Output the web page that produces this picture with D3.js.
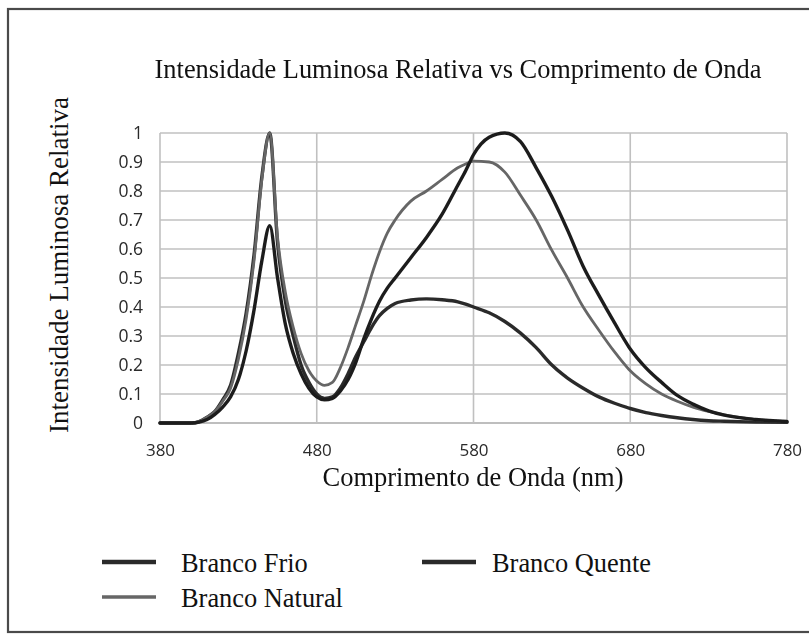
<!DOCTYPE html>
<html>
<head>
<meta charset="utf-8">
<script src="https://cdn.jsdelivr.net/npm/d3@7"></script>
<style>
  html, body { margin: 0; padding: 0; background: #ffffff; }
  svg { display: block; }
</style>
</head>
<body>
<svg id="chart" width="809" height="634"></svg>
<script>
// Wavelength samples (nm)
const wavelengths = [380, 400, 405, 410, 415, 420, 425, 430, 435, 440, 445, 450, 455, 460, 465, 470, 475, 480, 485, 490, 495, 500, 505, 510, 515, 520, 525, 530, 540, 550, 560, 570, 575, 580, 590, 600, 610, 620, 630, 640, 650, 660, 670, 680, 690, 700, 710, 720, 730, 740, 760, 780];

// Relative intensity per LED type
const brancoFrio = [0, 0, 0.005, 0.02, 0.04, 0.08, 0.13, 0.24, 0.38, 0.58, 0.85, 1.0, 0.62, 0.42, 0.3, 0.2, 0.14, 0.1, 0.085, 0.09, 0.12, 0.17, 0.23, 0.28, 0.33, 0.37, 0.395, 0.412, 0.424, 0.428, 0.425, 0.418, 0.41, 0.4, 0.38, 0.35, 0.31, 0.26, 0.2, 0.155, 0.12, 0.09, 0.068, 0.05, 0.036, 0.026, 0.018, 0.012, 0.008, 0.006, 0.003, 0.002];
const brancoQuente = [0, 0, 0.003, 0.012, 0.03, 0.055, 0.09, 0.15, 0.25, 0.39, 0.56, 0.68, 0.5, 0.34, 0.24, 0.17, 0.12, 0.09, 0.08, 0.085, 0.11, 0.15, 0.21, 0.29, 0.36, 0.42, 0.465, 0.5, 0.57, 0.64, 0.72, 0.82, 0.87, 0.925, 0.985, 1.0, 0.97, 0.88, 0.78, 0.665, 0.54, 0.44, 0.345, 0.255, 0.19, 0.14, 0.095, 0.065, 0.042, 0.027, 0.012, 0.005];
const brancoNatural = [0, 0, 0.005, 0.02, 0.04, 0.075, 0.12, 0.22, 0.36, 0.56, 0.84, 1.0, 0.64, 0.45, 0.33, 0.24, 0.18, 0.145, 0.13, 0.14, 0.19, 0.26, 0.34, 0.42, 0.51, 0.59, 0.655, 0.7, 0.765, 0.8, 0.84, 0.88, 0.893, 0.903, 0.9, 0.865, 0.785, 0.7, 0.595, 0.5, 0.4, 0.32, 0.245, 0.18, 0.135, 0.1, 0.075, 0.055, 0.04, 0.028, 0.012, 0.005];

const seriesNames = ["Branco Frio", "Branco Quente", "Branco Natural"];
const xTickValues = [380, 480, 580, 680, 780];
const yTickValues = [0, 0.1, 0.2, 0.3, 0.4, 0.5, 0.6, 0.7, 0.8, 0.9, 1];
const yTickLabels = ["0", "0.1", "0.2", "0.3", "0.4", "0.5", "0.6", "0.7", "0.8", "0.9", "1"];

const titleText = "Intensidade Luminosa Relativa vs Comprimento de Onda";
const xTitle = "Comprimento de Onda (nm)";
const yTitle = "Intensidade Luminosa Relativa";

const svg = d3.select("#chart");
const serif = "'Liberation Serif', 'Times New Roman', serif";
const sans = "'Open Sans', 'Liberation Sans', sans-serif";

// Soft blur for the plotted area (user-space region so flat lines still render)
const defs = svg.append("defs");
defs.append("filter").attr("id", "soft")
  .attr("filterUnits", "userSpaceOnUse")
  .attr("x", 0).attr("y", 0).attr("width", 809).attr("height", 634)
  .append("feGaussianBlur").attr("stdDeviation", 0.55);

// Outer frame
svg.append("rect")
  .attr("x", 8).attr("y", 9).attr("width", 820).attr("height", 623)
  .attr("fill", "none").attr("stroke", "#4a4a4a").attr("stroke-width", 2.2);

const x = d3.scaleLinear().domain([380, 780]).range([160, 787]);
const y = d3.scaleLinear().domain([0, 1]).range([423, 133]);

const plot = svg.append("g").attr("filter", "url(#soft)");

// Gridlines
plot.append("g")
  .selectAll("line")
  .data(yTickValues)
  .join("line")
  .attr("x1", x(380)).attr("x2", x(780))
  .attr("y1", d => y(d)).attr("y2", d => y(d))
  .attr("stroke", d => d === 0 ? "#a8a8a8" : "#c0c0c0")
  .attr("stroke-width", 1.6);

plot.append("g")
  .selectAll("line")
  .data(xTickValues)
  .join("line")
  .attr("x1", d => x(d)).attr("x2", d => x(d))
  .attr("y1", y(0)).attr("y2", y(1))
  .attr("stroke", "#c0c0c0")
  .attr("stroke-width", 1.6);

// Axes (labels only)
const xAxis = d3.axisBottom(x).tickValues(xTickValues).tickSize(0).tickPadding(21).tickFormat(d3.format("d"));
const gx = plot.append("g").attr("transform", `translate(0,${y(0)})`).call(xAxis);
gx.select(".domain").remove();
gx.selectAll("text").attr("font-family", sans).attr("font-size", 17).attr("fill", "#2a2a2a");

const yAxis = d3.axisLeft(y).tickValues(yTickValues).tickSize(0).tickPadding(17)
  .tickFormat((d, i) => yTickLabels[i]);
const gy = plot.append("g").attr("transform", `translate(${x(380)},0)`).call(yAxis);
gy.select(".domain").remove();
gy.selectAll("text").attr("font-family", sans).attr("font-size", 17.5).attr("fill", "#2a2a2a");

// Curves
const series = [
  { name: seriesNames[0], values: brancoFrio, color: "#2c2c2c", width: 3.4 },
  { name: seriesNames[2], values: brancoNatural, color: "#666666", width: 2.8 },
  { name: seriesNames[1], values: brancoQuente, color: "#1f1f1f", width: 3.4 }
];

const line = d3.line()
  .x((d, i) => x(wavelengths[i]))
  .y(d => y(d))
  .curve(d3.curveMonotoneX);

plot.append("g")
  .selectAll("path")
  .data(series)
  .join("path")
  .attr("d", d => line(d.values))
  .attr("fill", "none")
  .attr("stroke", d => d.color)
  .attr("stroke-width", d => d.width)
  .attr("stroke-linejoin", "round")
  .attr("stroke-linecap", "round");

// Titles
svg.append("text")
  .attr("x", 458).attr("y", 78)
  .attr("text-anchor", "middle")
  .attr("font-family", serif).attr("font-size", 26.4)
  .attr("fill", "#111")
  .text(titleText);

svg.append("text")
  .attr("x", 473).attr("y", 486)
  .attr("text-anchor", "middle")
  .attr("font-family", serif).attr("font-size", 26.5)
  .attr("fill", "#111")
  .text(xTitle);

svg.append("text")
  .attr("transform", `translate(68,265) rotate(-90)`)
  .attr("text-anchor", "middle")
  .attr("font-family", serif).attr("font-size", 27)
  .attr("fill", "#111")
  .text(yTitle);

// Legend
const legendItems = [
  { name: seriesNames[0], color: "#2c2c2c", width: 4.5, lx: 102, tx: 181, ty: 572 },
  { name: seriesNames[1], color: "#2a2a2a", width: 4.5, lx: 422, tx: 492, ty: 572 },
  { name: seriesNames[2], color: "#666666", width: 3.5, lx: 102, tx: 181, ty: 607 }
];
const legend = svg.append("g");
legend.selectAll("line")
  .data(legendItems)
  .join("line")
  .attr("x1", d => d.lx).attr("x2", d => d.lx + 54)
  .attr("y1", d => d.ty - 10).attr("y2", d => d.ty - 10)
  .attr("stroke", d => d.color)
  .attr("stroke-width", d => d.width)
  .attr("filter", "url(#soft)");
legend.selectAll("text")
  .data(legendItems)
  .join("text")
  .attr("x", d => d.tx).attr("y", d => d.ty)
  .attr("font-family", serif).attr("font-size", 26.4)
  .attr("fill", "#111")
  .text(d => d.name);
</script>
</body>
</html>
